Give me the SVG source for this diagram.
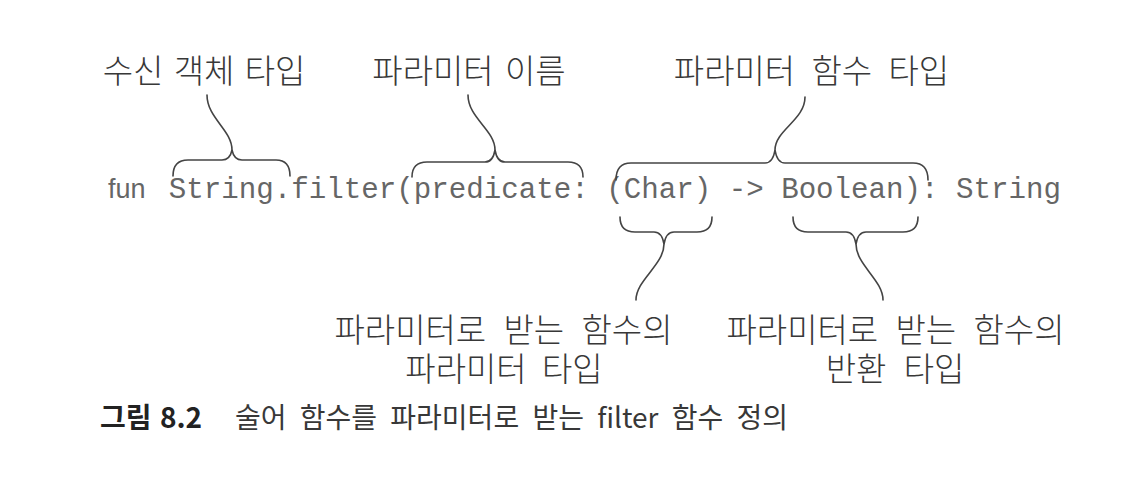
<svg xmlns="http://www.w3.org/2000/svg" width="1138" height="492" viewBox="0 0 1138 492">
<style>
.lbl{font-family:"Noto Sans CJK KR","Noto Sans",sans-serif;font-size:33px;font-weight:300;fill:#383838;text-anchor:middle}
.code{font-family:"Liberation Mono","Courier New",monospace;font-size:29.17px;fill:#666}
.fun{font-family:"Liberation Sans",Arial,sans-serif;font-size:27px;fill:#666}
.brace{fill:none;stroke:#444;stroke-width:1.6;stroke-linecap:round}
.cap{font-family:"Noto Sans CJK KR","Noto Sans",sans-serif;font-size:28px;fill:#383838;word-spacing:7px}
.capb{font-weight:bold;fill:#222;word-spacing:2px}
</style>
<rect width="1138" height="492" fill="#fff"/>
<g id="code">
<text class="fun" x="108" y="198">fun</text>
<text class="code" x="168.75" y="198">String.filter(predicate: (Char) -&gt; Boolean): String</text>
</g>
<g id="receiver-type"><text class="lbl" x="204" y="83" style="word-spacing:3px">수신 객체 타입</text></g>
<g id="param-name"><text class="lbl" x="469" y="83" style="word-spacing:4px">파라미터 이름</text></g>
<g id="param-func-type"><text class="lbl" x="811.5" y="83" style="word-spacing:9px">파라미터 함수 타입</text></g>
<g id="func-param-type">
<text class="lbl" y="342"><tspan x="503.5" style="word-spacing:10px">파라미터로 받는 함수의</tspan><tspan x="504" y="381" style="word-spacing:8px">파라미터 타입</tspan></text>
</g>
<g id="func-return-type">
<text class="lbl" y="342"><tspan x="895.5" style="word-spacing:10px">파라미터로 받는 함수의</tspan><tspan x="895" y="381" style="word-spacing:10px">반환 타입</tspan></text>
</g>
<g id="connectors">
<path class="brace" d="M173,176 Q173,160 188,160 L222,160 Q230,160 232,150 Q234,160 242,160 L276,160 Q290,160 290,176"/>
<path class="brace" d="M232,150 C232,130 207,118 207,95"/>
<path class="brace" d="M412,177 Q412,162 427,162 L485,162 Q493,162 495,150 Q497,162 505,162 L568,162 Q583,162 583,177"/>
<path class="brace" d="M495,150 C495,130 468,118 468,95"/>
<path class="brace" d="M616,180 Q616,163 631,163 L765,163 Q773,163 775,150 Q777,163 785,163 L913,163 Q928,163 928,180"/>
<path class="brace" d="M775,150 C775,130 805,120 805,97"/>
<path class="brace" d="M620,217 Q620,232 635,232 L654,232 Q662,232 664,244 Q666,232 674,232 L697,232 Q712,232 712,217"/>
<path class="brace" d="M664,244 C664,265 636,280 636,300"/>
<path class="brace" d="M793,217 Q793,232 808,232 L846,232 Q854,232 856,244 Q858,232 866,232 L903,232 Q918,232 918,217"/>
<path class="brace" d="M856,244 C856,265 883,280 883,300"/>
</g>
<g id="caption">
<text class="cap" x="100" y="428"><tspan class="capb">그림 8.2</tspan><tspan x="235">술어 함수를 파라미터로 받는 filter 함수 정의</tspan></text>
</g>
</svg>
